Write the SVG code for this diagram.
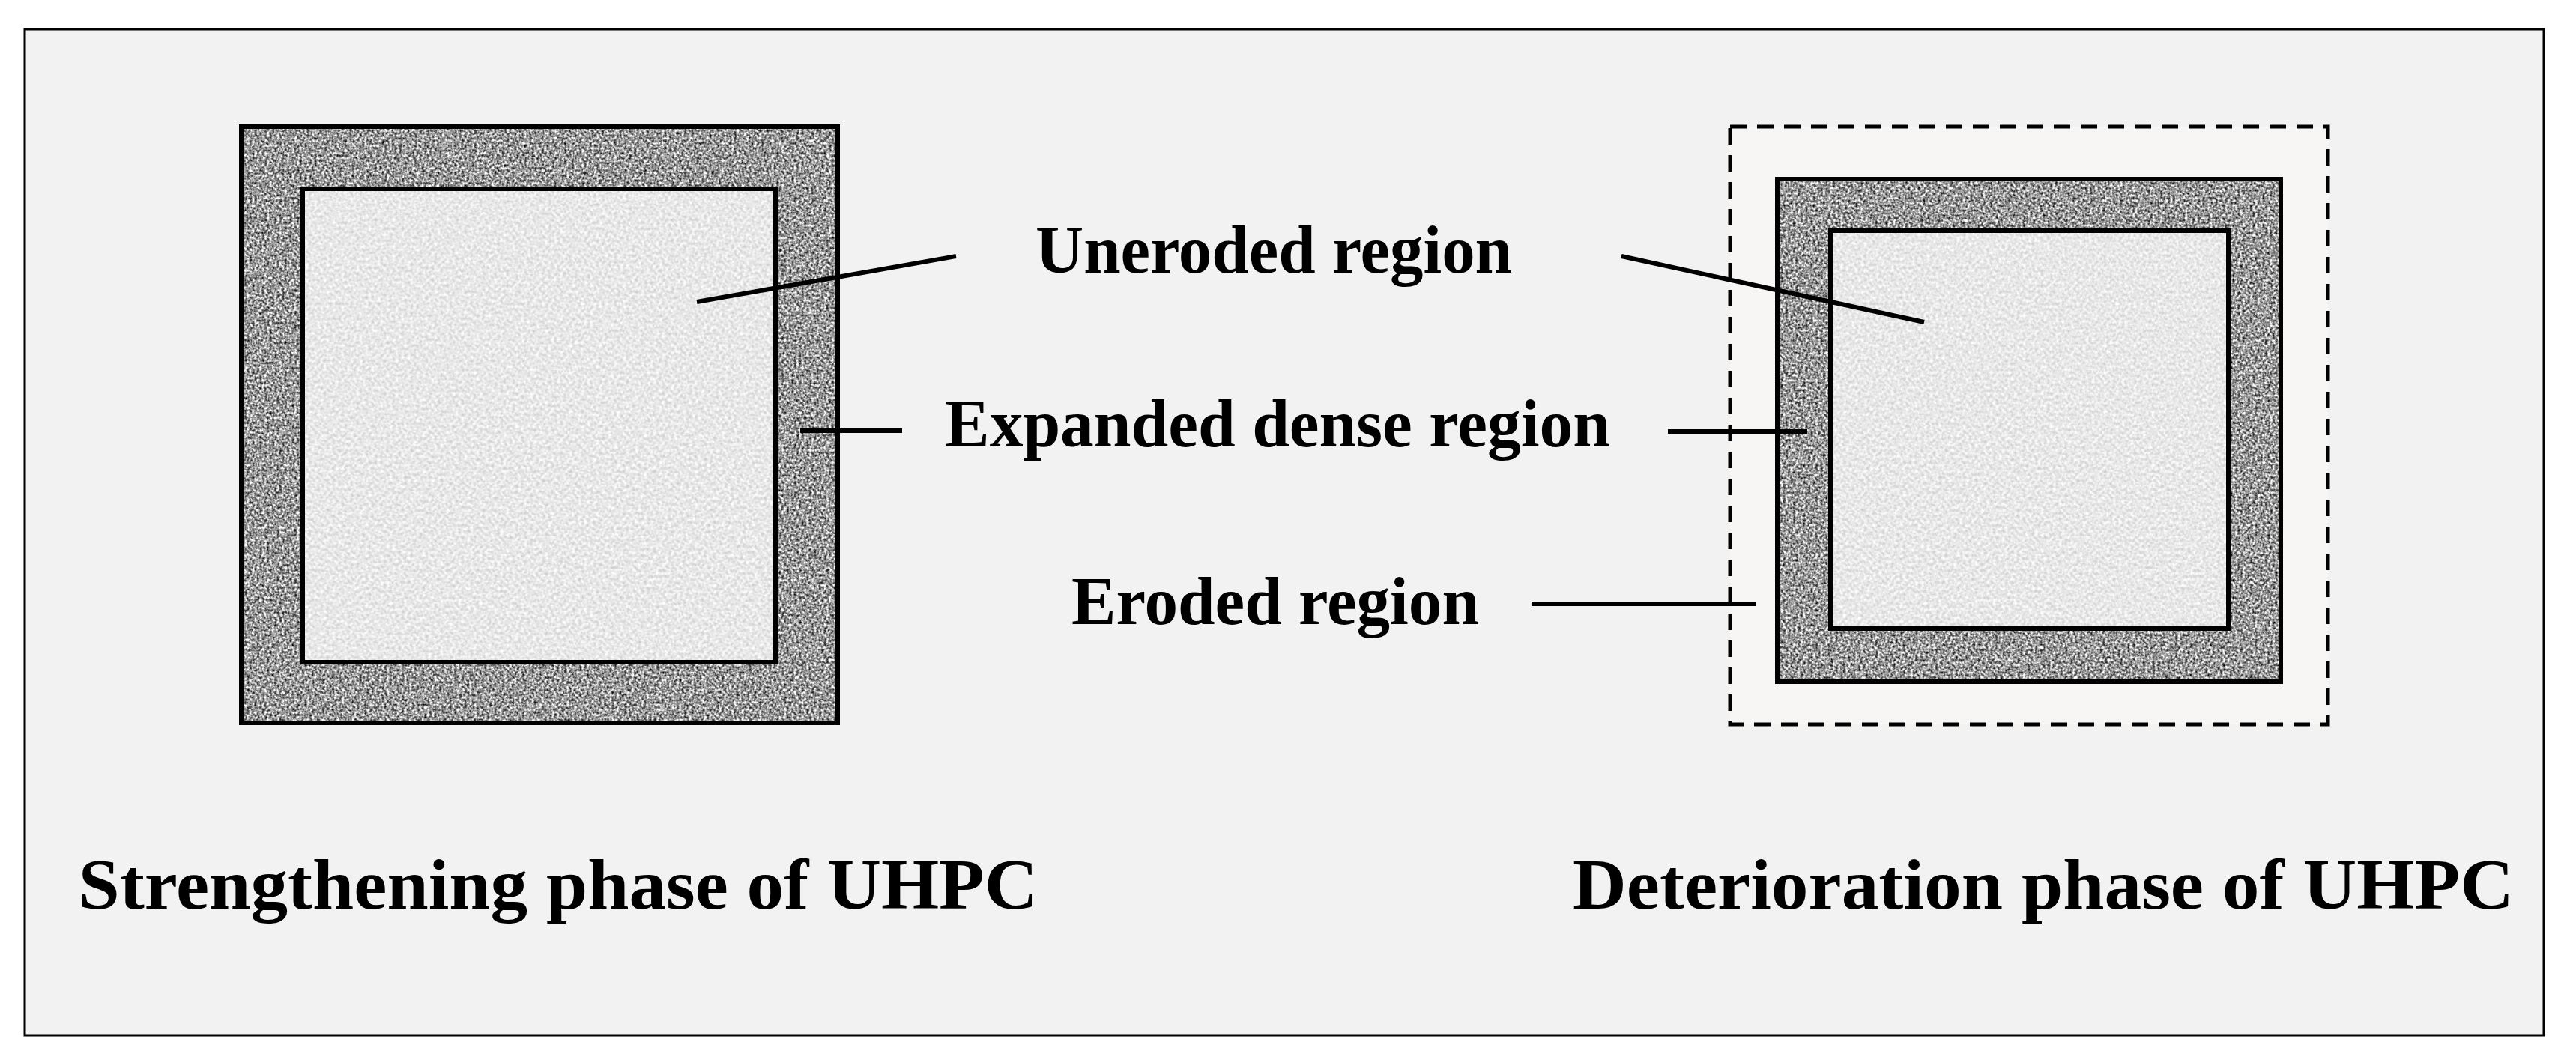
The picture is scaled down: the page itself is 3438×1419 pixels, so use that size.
<svg xmlns="http://www.w3.org/2000/svg" width="3438" height="1419" viewBox="0 0 3438 1419">
<defs>
<filter id="dark" x="0" y="0" width="1" height="1" color-interpolation-filters="sRGB">
<feTurbulence type="fractalNoise" baseFrequency="0.3" numOctaves="2" seed="3"/>
<feColorMatrix type="matrix" values="1.6 0 0 0 -0.2  1.6 0 0 0 -0.2  1.6 0 0 0 -0.2  0 0 0 0 1"/>
</filter>
<filter id="light" x="0" y="0" width="1" height="1" color-interpolation-filters="sRGB">
<feTurbulence type="fractalNoise" baseFrequency="0.25" numOctaves="2" seed="7"/>
<feColorMatrix type="matrix" values="0.3 0 0 0 0.76  0.3 0 0 0 0.76  0.3 0 0 0 0.76  0 0 0 0 1"/>
</filter>
<style>
.o{fill:none;stroke:#000;stroke-width:6}
.c{stroke:#000;stroke-width:6;fill:none}
.t{font-family:"Liberation Serif","Times New Roman",serif;font-weight:bold;text-anchor:middle;fill:#000}
</style>
</defs>
<rect x="0" y="0" width="3438" height="1419" fill="#fff"/>
<rect x="33" y="39" width="3362" height="1343" fill="#f2f2f2" stroke="#000" stroke-width="3"/>
<g id="strengthening">
<rect x="322" y="169" width="796" height="796" filter="url(#dark)"/>
<rect x="404" y="252" width="631" height="632" filter="url(#light)"/>
<rect class="o" x="322" y="169" width="796" height="796"/>
<rect class="o" x="404" y="252" width="631" height="632"/>
</g>
<g id="deterioration">
<rect x="2309" y="169" width="798" height="798" fill="#f7f6f4"/>
<rect x="2372" y="239" width="672" height="671" filter="url(#dark)"/>
<rect x="2443" y="308" width="531" height="531" filter="url(#light)"/>
<rect x="2309" y="169" width="798" height="798" fill="none" stroke="#000" stroke-width="5" stroke-dasharray="22 14"/>
<rect class="o" x="2372" y="239" width="672" height="671"/>
<rect class="o" x="2443" y="308" width="531" height="531"/>
</g>
<g id="connectors">
<line class="c" x1="930" y1="403" x2="1276" y2="342"/>
<line class="c" x1="2164" y1="342" x2="2568" y2="430"/>
<line class="c" x1="1068" y1="575" x2="1204" y2="575"/>
<line class="c" x1="2226" y1="576" x2="2412" y2="576"/>
<line class="c" x1="2044" y1="806" x2="2344" y2="806"/>
</g>
<g id="labels">
<text class="t" x="1700" y="364" font-size="90" textLength="636" lengthAdjust="spacingAndGlyphs">Uneroded region</text>
<text class="t" x="1705" y="596" font-size="90" textLength="888" lengthAdjust="spacingAndGlyphs">Expanded dense region</text>
<text class="t" x="1702" y="833" font-size="90" textLength="544" lengthAdjust="spacingAndGlyphs">Eroded region</text>
<text class="t" x="745" y="1213" font-size="96" textLength="1281" lengthAdjust="spacingAndGlyphs">Strengthening phase of UHPC</text>
<text class="t" x="2727" y="1213" font-size="96" textLength="1256" lengthAdjust="spacingAndGlyphs">Deterioration phase of UHPC</text>
</g>
</svg>
